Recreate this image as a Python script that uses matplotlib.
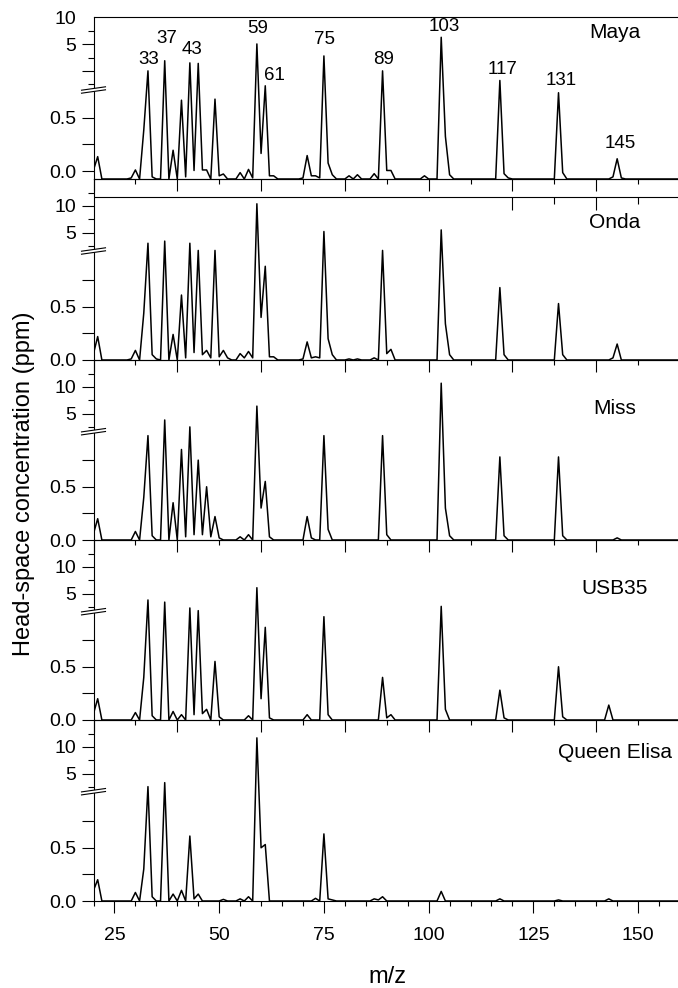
import numpy as np
import matplotlib
matplotlib.use('Agg')
import matplotlib.pyplot as plt
from matplotlib.lines import Line2D
from matplotlib.patches import Polygon
from matplotlib.ticker import FixedLocator, FixedFormatter

plt.rcParams['font.family'] = ['Liberation Sans', 'DejaVu Sans']
plt.rcParams['font.size'] = 14

# m/z axis, one sample per unit mass
mz = np.arange(20, 161)

names = ['Maya', 'Onda', 'Miss', 'USB35', 'Queen Elisa']

# readings (ppm) at each m/z, everything not listed sits on the baseline
maya = {20: 0.085, 21: 0.21, 29: 0.01, 30: 0.085, 32: 0.46, 33: 5.0, 34: 0.02,
        37: 6.9, 39: 0.27, 41: 0.74, 42: 0.02, 43: 6.5, 44: 0.08, 45: 6.4,
        46: 0.085, 47: 0.085, 49: 0.75, 50: 0.03, 51: 0.047, 55: 0.06, 57: 0.09,
        58: 0.01, 59: 10.05, 60: 0.24, 61: 2.2, 62: 0.03, 63: 0.03, 70: 0.01,
        71: 0.22, 72: 0.03, 73: 0.03, 74: 0.01, 75: 7.8, 76: 0.15, 77: 0.04,
        81: 0.03, 83: 0.04, 87: 0.05, 89: 5.0, 90: 0.08, 91: 0.08, 99: 0.03,
        103: 11.3, 104: 0.4, 105: 0.04, 117: 3.2, 118: 0.05, 119: 0.01,
        131: 0.81, 132: 0.06, 144: 0.02, 145: 0.19, 146: 0.01}
onda = {20: 0.06, 21: 0.22, 29: 0.01, 30: 0.09, 32: 0.44, 33: 3.0, 34: 0.05,
        35: 0.01, 37: 3.4, 39: 0.24, 41: 0.61, 42: 0.02, 43: 3.0, 44: 0.07,
        45: 1.65, 46: 0.05, 47: 0.09, 48: 0.02, 49: 1.65, 50: 0.03, 51: 0.09,
        52: 0.02, 55: 0.06, 56: 0.02, 57: 0.08, 58: 0.02, 59: 10.4, 60: 0.4,
        61: 0.88, 62: 0.03, 63: 0.03, 70: 0.01, 71: 0.17, 72: 0.02, 73: 0.03,
        74: 0.02, 75: 5.2, 76: 0.2, 77: 0.05, 81: 0.01, 83: 0.01, 87: 0.02,
        89: 1.65, 90: 0.06, 91: 0.1, 103: 5.5, 104: 0.34, 105: 0.05,
        117: 0.68, 118: 0.05, 131: 0.53, 132: 0.05, 144: 0.02, 145: 0.15}
miss = {20: 0.06, 21: 0.2, 30: 0.08, 32: 0.4, 33: 0.98, 34: 0.04, 37: 3.8,
        39: 0.35, 41: 0.85, 42: 0.03, 43: 2.5, 44: 0.05, 45: 0.75, 46: 0.05,
        47: 0.5, 48: 0.03, 49: 0.22, 50: 0.02, 55: 0.03, 57: 0.05, 59: 6.4,
        60: 0.3, 61: 0.55, 62: 0.03, 71: 0.22, 72: 0.02, 75: 0.98, 76: 0.1,
        89: 0.98, 90: 0.05, 103: 10.7, 104: 0.3, 105: 0.04, 117: 0.78,
        118: 0.04, 131: 0.78, 132: 0.04, 145: 0.02}
usb35 = {20: 0.06, 21: 0.2, 30: 0.07, 32: 0.4, 33: 3.8, 34: 0.04, 37: 3.4,
         39: 0.08, 41: 0.05, 43: 2.3, 44: 0.05, 45: 1.8, 46: 0.06, 47: 0.1,
         49: 0.55, 50: 0.03, 57: 0.04, 59: 6.1, 60: 0.2, 61: 0.87, 62: 0.02,
         71: 0.05, 75: 0.97, 76: 0.05, 89: 0.4, 90: 0.02, 91: 0.05, 103: 2.6,
         104: 0.1, 117: 0.28, 118: 0.02, 131: 0.5, 132: 0.03, 143: 0.14}
queen_elisa = {20: 0.1, 21: 0.2, 30: 0.08, 32: 0.3, 33: 2.55, 34: 0.04,
               37: 3.3, 39: 0.065, 41: 0.1, 43: 0.61, 44: 0.02, 45: 0.065,
               51: 0.015, 55: 0.02, 57: 0.04, 59: 11.7, 60: 0.5, 61: 0.53,
               73: 0.025, 75: 0.63, 76: 0.02, 77: 0.01, 87: 0.02, 88: 0.01,
               89: 0.04, 103: 0.09, 117: 0.02, 131: 0.01, 143: 0.02}

readings = [maya, onda, miss, usb35, queen_elisa]

# peaks labelled in the top panel, with label offsets in pixels (dx, dy)
peak_labels = [33, 37, 43, 59, 61, 75, 89, 103, 117, 131, 145]
peak_offsets = {33: (1, 11), 37: (2, 22), 43: (2, 13), 59: (1, 15), 61: (9, 10),
                75: (1, 16), 89: (1, 11), 103: (3, 11), 117: (3, 11),
                131: (3, 12), 145: (3, 15)}

# ---- layout (pixels from top of a 678x988 canvas) ----
W, H = 678, 988
X0, X1 = 93.5, 680
tops = [17.3, 179, 360, 540, 720]
bots = [179, 360, 540, 720, 901]
brks = [90, 251, 431.7, 611.7, 791.7]
name_y = [33, 223, 408, 589, 753]
UP_PX = 5.33      # pixels per ppm above the break
LOW_PX = 106.5    # pixels per ppm below the break
UTOP = 15.05

fig = plt.figure(figsize=(W / 100, H / 100), dpi=100)


def fx(x):
    return x / W


def fy(y):
    return 1 - y / H


def break_mark(y):
    dx, rise, gap = 12, 1.7, 1.5
    p = [(X0 - dx, y + rise + gap), (X0 + dx, y - rise + gap),
         (X0 + dx, y - rise - gap), (X0 - dx, y + rise - gap)]
    fig.add_artist(Polygon([(fx(a), fy(b)) for a, b in p], closed=True,
                           facecolor='white', edgecolor='none',
                           transform=fig.transFigure, zorder=10))
    for s in (gap, -gap):
        fig.add_artist(Line2D([fx(X0 - dx), fx(X0 + dx)],
                              [fy(y + rise + s), fy(y - rise + s)],
                              color='black', lw=0.8,
                              transform=fig.transFigure, zorder=11))


for i, (name, rd) in enumerate(zip(names, readings)):
    top, bot, brk = tops[i], bots[i], brks[i]
    ax = fig.add_axes([fx(X0), fy(bot), (X1 - X0) / W, (bot - top) / H])
    ax.patch.set_visible(False)

    pb = (bot - brk) / (bot - top)
    ltop = (bot - brk) / LOW_PX
    ubot = UTOP - (brk - top) / UP_PX
    vals = [0, ltop, ubot, UTOP]
    poss = [0, pb, pb + 1e-6, 1]

    def fwd(v, vals=vals, poss=poss):
        return np.interp(v, vals, poss)

    def inv(p, vals=vals, poss=poss):
        return np.interp(p, poss, vals)

    ax.set_yscale('function', functions=(fwd, inv))

    y = np.array([rd.get(m, 0.0) for m in mz])
    ax.plot(mz, y, color='black', lw=1.1)
    ax.set_xlim(20, 160)
    ax.set_ylim(0, UTOP)

    if i == 0:
        maj = [0.075, 0.325, 0.575, 5, 10, 15]
    else:
        maj = [0, 0.25, 0.5, 0.75, 5, 10]
    ax.yaxis.set_major_locator(FixedLocator(maj))
    ax.yaxis.set_major_formatter(FixedFormatter(['0.0', '', '0.5', '', '5', '10']))
    ax.yaxis.set_minor_locator(FixedLocator([2.5, 7.5, 12.5]))
    ax.tick_params(axis='y', which='major', length=8.6, width=0.8, pad=4)
    ax.tick_params(axis='y', which='minor', length=4.3, width=0.8)
    if i == 0:
        ax.yaxis.get_major_ticks()[-1].tick1line.set_visible(False)

    if i < 4:
        ax.xaxis.set_major_locator(FixedLocator(range(20, 161, 20)))
        ax.xaxis.set_minor_locator(FixedLocator(range(30, 161, 20)))
        ax.tick_params(axis='x', which='both', labelbottom=False)
    else:
        ax.xaxis.set_major_locator(FixedLocator(range(25, 151, 25)))
        ax.xaxis.set_minor_locator(FixedLocator(range(20, 161, 5)))
    ax.tick_params(axis='x', which='major', length=8.6, width=0.8, pad=10)
    ax.tick_params(axis='x', which='minor', length=3.6, width=0.8)

    for sp in ax.spines.values():
        sp.set_linewidth(0.8)

    ax.text((615 - X0) / (X1 - X0), (bot - name_y[i]) / (bot - top), name,
            transform=ax.transAxes, ha='center', va='center', fontsize=15)

    if i == 0:
        for m in peak_labels:
            dx, dy = peak_offsets[m]
            ax.annotate(str(m), (m, rd.get(m, 0.0)), xytext=(dx, dy),
                        textcoords='offset pixels', ha='center', va='center',
                        fontsize=13.5)
    if i == 1:
        # stray frame line and ticks left over from the panel above
        yl = UTOP - (197 - top) / UP_PX
        ax.axhline(yl, color='black', lw=0.8)
        ax.vlines([120, 140], yl - 12.7 / UP_PX, yl, color='black', lw=0.8)
        ax.vlines([130, 150], yl - 6.7 / UP_PX, yl, color='black', lw=0.8)

    break_mark(brk)

fig.text(fx(24), fy(484), 'Head-space concentration (ppm)', rotation=90,
         ha='center', va='center', fontsize=17)
fig.text(fx(387), fy(977), 'm/z', ha='center', va='center', fontsize=17)

fig.savefig('out.png', dpi=100)
